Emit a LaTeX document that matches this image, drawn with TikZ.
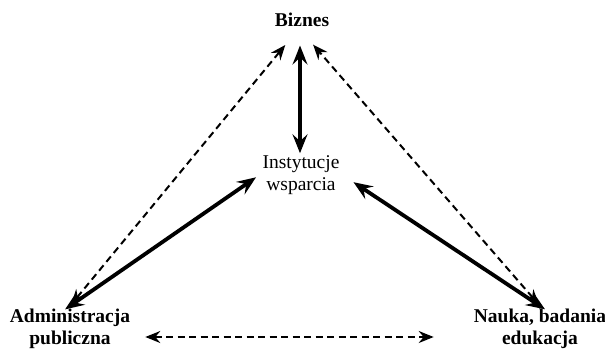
\documentclass[tikz,border=0pt]{standalone}
\usepackage{fontspec}
\setmainfont{Liberation Serif}
\usepackage{tikz}
\usetikzlibrary{arrows.meta}

\tikzset{
	label node/.style = {align=center, inner sep=3pt, font=\fontsize{19.5}{22}\selectfont},
	bold label/.style = {label node, font=\fontsize{19.5}{22}\selectfont\bfseries},
	strong link/.style = {line width=3.8pt, {Stealth[length=19pt, width=15pt, inset=7pt]}-{Stealth[length=19pt, width=15pt, inset=7pt]}},
	weak link/.style = {line width=2pt, dash pattern=on 7pt off 4.5pt, {Stealth[length=15pt, width=12pt, inset=5pt]}-{Stealth[length=15pt, width=12pt, inset=5pt]}}
}

\begin{document}
\begin{tikzpicture}[x=1pt, y=-1pt]
	\useasboundingbox (0, 0) rectangle (605, 349);

	\node[bold label] (biz) at (302, 19.5) {Biznes};
	\node[label node] (inst) at (301, 175) {Instytucje\\wsparcia};
	\node[bold label] (adm) at (70, 329) {Administracja\\publiczna};
	\node[bold label] (nauka) at (540, 329) {Nauka, badania\\edukacja};

	\draw[strong link, shorten <=16pt, shorten >=-1pt] ([xshift=-2pt]biz.south) -- ([xshift=-1pt]inst.north);
	\draw[strong link, shorten <=-6pt, shorten >=4pt] (adm.north) -- (inst.west);
	\draw[strong link, shorten <=-6pt, shorten >=13pt] (nauka.north) -- (inst.east);

	\draw[weak link, shorten <=2pt, shorten >=20pt] (adm.north) -- ([xshift=-4pt]biz.south);
	\draw[weak link, shorten <=2pt, shorten >=20pt] (nauka.north) -- ([xshift=-2pt]biz.south);
	\draw[weak link, shorten <=12pt, shorten >=37pt] ([yshift=-8pt]adm.east) -- ([yshift=-8pt]nauka.west);
\end{tikzpicture}
\end{document}
